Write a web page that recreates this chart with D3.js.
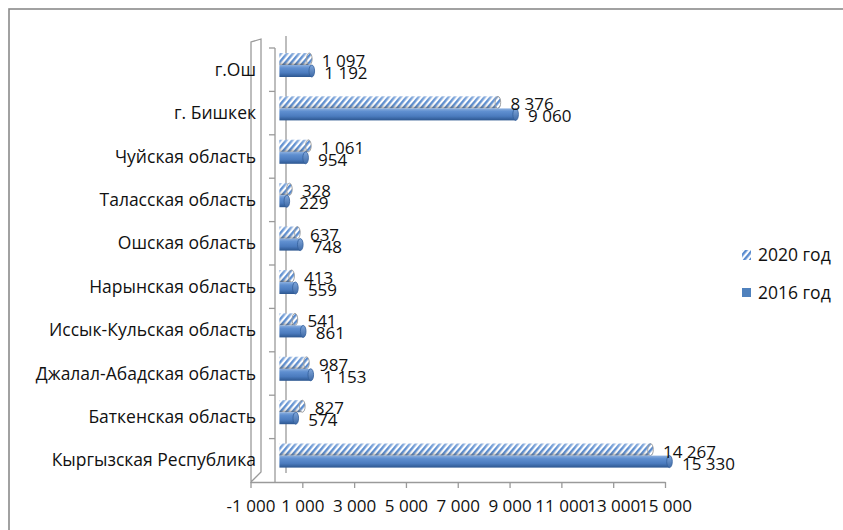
<!DOCTYPE html>
<html><head><meta charset="utf-8">
<script src="https://cdn.jsdelivr.net/npm/d3@7"></script>
<style>
html,body{margin:0;padding:0;background:#fff;}
svg{display:block;font-family:"Open Sans",sans-serif;}
</style></head>
<body><svg id="c" width="843" height="530"></svg>
<script>
const categories = ["г.Ош","г. Бишкек","Чуйская область","Таласская область","Ошская область","Нарынская область","Иссык-Кульская область","Джалал-Абадская область","Баткенская область","Кыргызская Республика"];
const values2020 = [1097, 8376, 1061, 328, 637, 413, 541, 987, 827, 14267];
const values2016 = [1192, 9060, 954, 229, 748, 559, 861, 1153, 574, 15330];
const seriesNames = ["2020 год", "2016 год"];
const tickValues = [-1000, 1000, 3000, 5000, 7000, 9000, 11000, 13000, 15000];
const xDomain = [-1000, 15000];

const svg = d3.select("#c");
const loc = d3.formatLocale({decimal:",", thousands:" ", grouping:[3], currency:["",""], minus:"-"});
const fmt = loc.format(",d");

const defs = svg.append("defs");
const pat = defs.append("pattern").attr("id","hatch").attr("patternUnits","userSpaceOnUse")
  .attr("width",4.6).attr("height",8).attr("patternTransform","rotate(40)");
pat.append("rect").attr("width",4.6).attr("height",8).attr("fill","#ffffff");
pat.append("rect").attr("width",2.4).attr("height",8).attr("fill","#5a8ccf");
const sg = defs.append("linearGradient").attr("id","solidG").attr("x1",0).attr("y1",0).attr("x2",0).attr("y2",1);
[["0%","#8db0df"],["25%","#5f8fd0"],["65%","#4b7bbe"],["100%","#2c568f"]].forEach(s=>sg.append("stop").attr("offset",s[0]).attr("stop-color",s[1]));
const capG = defs.append("linearGradient").attr("id","capG").attr("x1",0).attr("y1",0).attr("x2",0).attr("y2",1);
[["0%","#7fa6db"],["100%","#3f6aa6"]].forEach(s=>capG.append("stop").attr("offset",s[0]).attr("stop-color",s[1]));
const hg = defs.append("linearGradient").attr("id","hatchShade").attr("x1",0).attr("y1",0).attr("x2",0).attr("y2",1);
[["0%","#ffffff",0.35],["45%","#ffffff",0],["80%","#606060",0.15],["100%","#404040",0.55]].forEach(s=>hg.append("stop").attr("offset",s[0]).attr("stop-color",s[1]).attr("stop-opacity",s[2]));

svg.append("rect").attr("x",9).attr("y",9).attr("width",900).attr("height",600)
  .attr("fill","none").attr("stroke","#8a8a8a").attr("stroke-width",1.6);

const x = d3.scaleLinear().domain(xDomain).range([250.5, 665]).clamp(true);
const y = d3.scaleBand().domain(categories).range([48, 482]).padding(0);
const ys = d3.scaleBand().domain(seriesNames).range([5, 29]).padding(0);

const grey = "#9a9a9a";
svg.append("path").attr("d","M251,482 L251,42 L261,39 L261,472 Z")
  .attr("fill","#fff").attr("stroke",grey).attr("stroke-width",1.3);
svg.append("line").attr("x1",286).attr("x2",286).attr("y1",36).attr("y2",473)
  .attr("stroke",grey).attr("stroke-width",1.3);
svg.append("line").attr("x1",275).attr("x2",275).attr("y1",y.range()[0]).attr("y2",482)
  .attr("stroke",grey).attr("stroke-width",1.3);
svg.append("g").selectAll("line").data(categories).join("line")
  .attr("x1",269).attr("x2",275).attr("y1",d=>y(d)).attr("y2",d=>y(d))
  .attr("stroke",grey).attr("stroke-width",1.3);

const xAxis = d3.axisBottom(x).tickValues(tickValues).tickFormat(fmt).tickSize(6).tickSizeOuter(0).tickPadding(12);
const ga = svg.append("g").attr("transform","translate(0,482)").call(xAxis);
ga.select(".domain").attr("stroke",grey).attr("stroke-width",1.3);
ga.selectAll(".tick line").attr("stroke",grey).attr("stroke-width",1.3);
ga.selectAll(".tick text").attr("font-family","Open Sans").attr("font-size",17).attr("fill","#111");

svg.append("g").selectAll("text").data(categories).join("text")
  .attr("x",256).attr("y",d=>y(d)+y.bandwidth()/2).attr("dy","0.35em")
  .attr("text-anchor","end").attr("font-size",17.5).attr("fill","#111").text(d=>d);

const series = [
  {name: seriesNames[0], values: values2020, hatch: true},
  {name: seriesNames[1], values: values2016, hatch: false}
];
const bh = ys.bandwidth();
const x0 = x(0) + 3;
series.forEach(s => {
  const g = svg.append("g");
  categories.forEach((c, i) => {
    const v = s.values[i];
    const top = y(c) + ys(s.name);
    const xe = x(v) + 4.5;
    const w = Math.max(xe - x0, 1);
    if (s.hatch) {
      g.append("rect").attr("x",x0).attr("y",top).attr("width",w).attr("height",bh).attr("fill","url(#hatch)");
      g.append("rect").attr("x",x0).attr("y",top).attr("width",w).attr("height",bh).attr("fill","url(#hatchShade)");
      g.append("ellipse").attr("cx",xe).attr("cy",top+bh/2).attr("rx",2.8).attr("ry",bh/2)
        .attr("fill","url(#hatch)").attr("stroke","#9a9a9a").attr("stroke-width",0.9);
    } else {
      g.append("rect").attr("x",x0).attr("y",top).attr("width",w).attr("height",bh).attr("fill","url(#solidG)");
      g.append("ellipse").attr("cx",xe).attr("cy",top+bh/2).attr("rx",2.8).attr("ry",bh/2)
        .attr("fill","url(#capG)").attr("stroke","#34609c").attr("stroke-width",0.8);
    }
  });
});
series.forEach((s, si) => {
  svg.append("g").selectAll("text").data(categories).join("text")
    .attr("x",(c,i)=>x(s.values[i]) + 17)
    .attr("y",c=>y(c) + (si===0 ? 13 : 25)).attr("dy","0.35em")
    .attr("font-size",17).attr("fill","#111")
    .text((c,i)=>fmt(s.values[i]));
});

const lg = svg.append("g");
const legY = [255, 293];
seriesNames.forEach((n, i) => {
  if (i === 0) {
    lg.append("rect").attr("x",742).attr("y",legY[i]-5).attr("width",9).attr("height",10).attr("fill","url(#hatch)");
  } else {
    lg.append("rect").attr("x",742).attr("y",legY[i]-5).attr("width",9).attr("height",9).attr("fill","#4f81bd");
  }
  lg.append("text").attr("x",758).attr("y",legY[i]).attr("dy","0.35em").attr("font-size",17.5).attr("fill","#111").text(n);
});
</script></body></html>
